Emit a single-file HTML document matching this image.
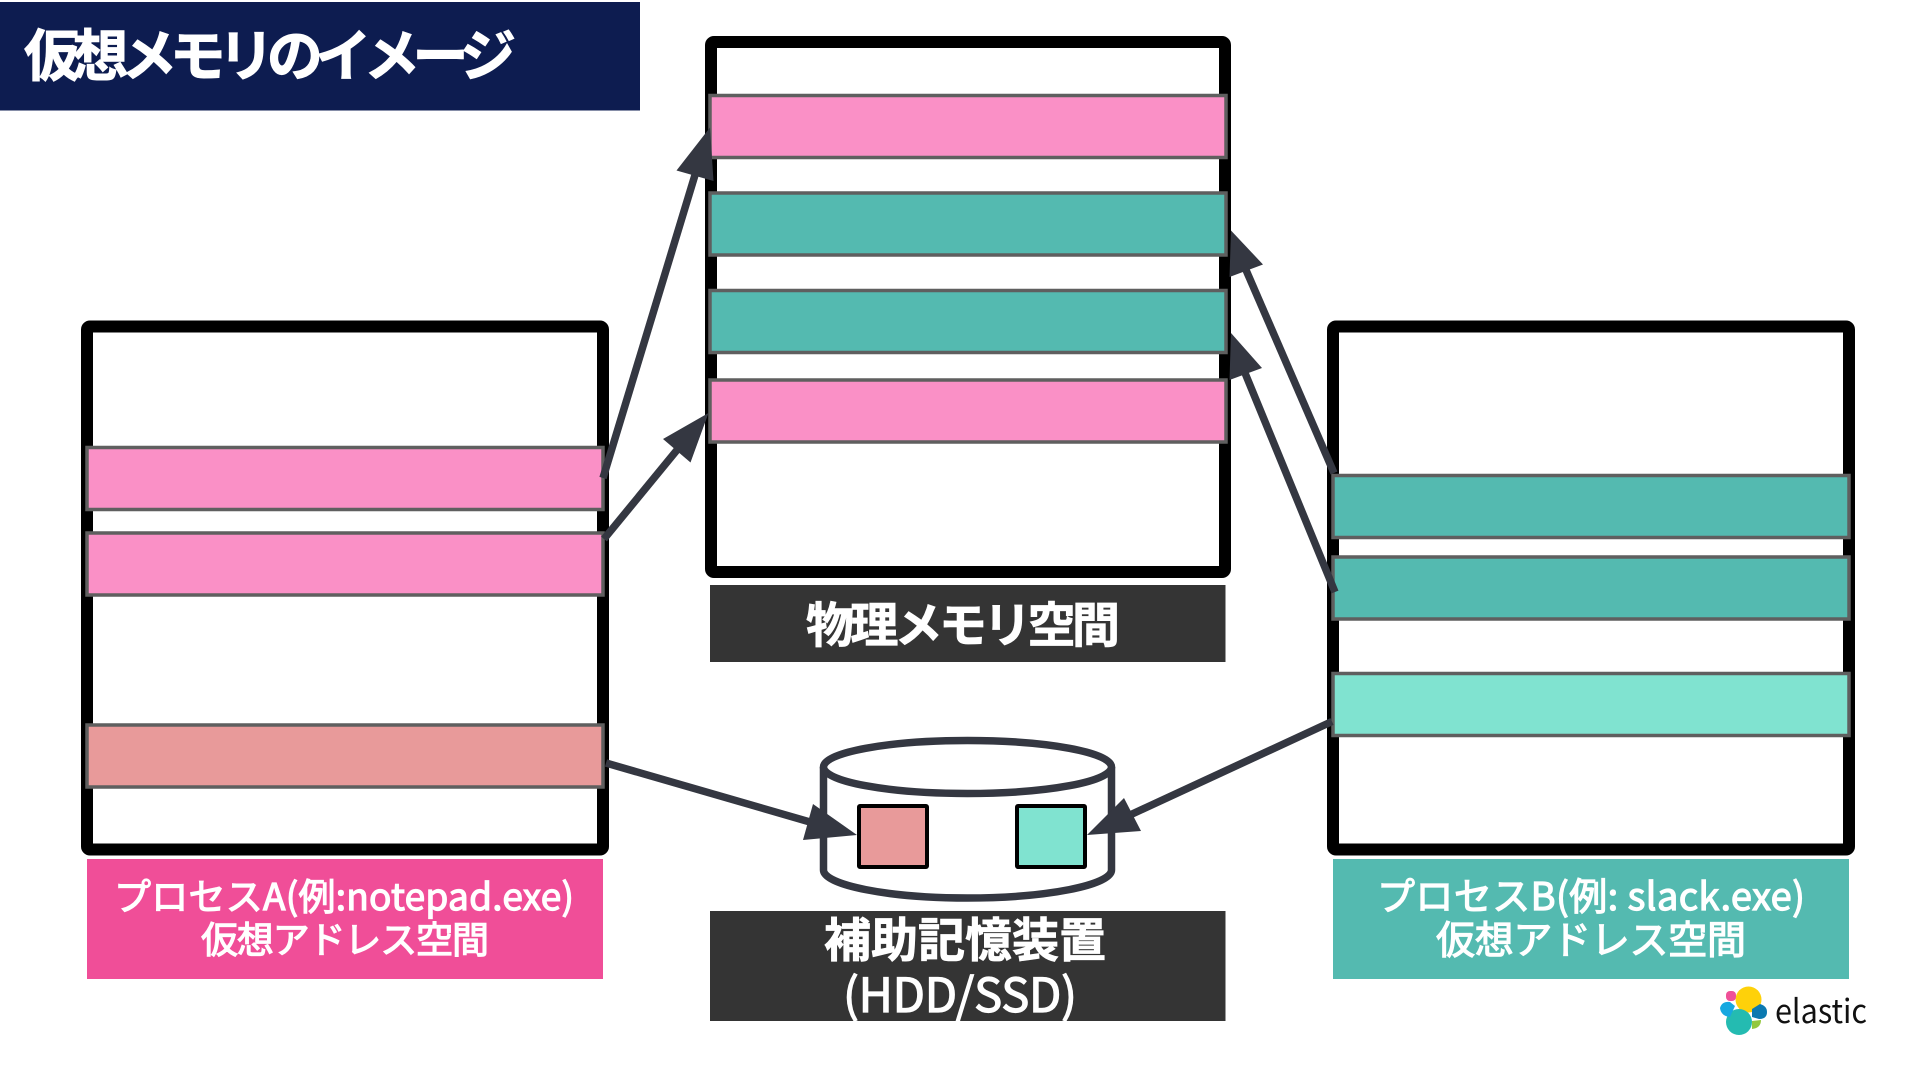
<!DOCTYPE html>
<html lang="ja"><head><meta charset="utf-8"><style>
html,body{margin:0;padding:0;background:#fff;width:1920px;height:1080px;overflow:hidden}
svg{display:block}
text{font-family:"Noto Sans CJK JP","Liberation Sans",sans-serif;fill:#fff;font-weight:700;text-anchor:start}
.m{font-weight:400;stroke:#fff;stroke-width:1.200}
.b{stroke:#5f5f5f;stroke-width:3.500}
.f{fill:none;stroke:#000;stroke-width:12}
.l{stroke:#343741;stroke-width:7.500;fill:none}
.h{fill:#343741}
</style></head><body>
<svg width="1920" height="1080" viewBox="0 0 1920 1080" xmlns="http://www.w3.org/2000/svg">
<rect width="1920" height="1080" fill="#fff"/>
<rect x="0" y="2" width="640" height="108.500" fill="#0d1c50"/>
<text x="24" y="76" font-size="56" textLength="492" lengthAdjust="spacing" style="stroke:#fff;stroke-width:1">仮想メモリのイメージ</text>

<rect class="f" x="711" y="42" width="514" height="530" rx="3"/>
<rect class="f" x="87" y="326.500" width="516" height="523" rx="3"/>
<rect class="f" x="1333" y="326.500" width="516" height="523" rx="3"/>

<rect class="b" x="710" y="95.500" width="516" height="62" fill="#fa90c6"/>
<rect class="b" x="710" y="193" width="516" height="62" fill="#54bab0"/>
<rect class="b" x="710" y="290.500" width="516" height="62" fill="#54bab0"/>
<rect class="b" x="710" y="380" width="516" height="62" fill="#fa90c6"/>

<rect class="b" x="87" y="447.500" width="516" height="62" fill="#fa90c6"/>
<rect class="b" x="87" y="533" width="516" height="62" fill="#fa90c6"/>
<rect class="b" x="87" y="725" width="516" height="62" fill="#e89a9a"/>

<rect class="b" x="1333" y="475.500" width="516" height="62" fill="#54bab0"/>
<rect class="b" x="1333" y="557" width="516" height="62" fill="#54bab0"/>
<rect class="b" x="1333" y="673.500" width="516" height="62" fill="#80e3d0"/>

<rect x="710" y="585" width="515.500" height="77" fill="#343434"/>
<text x="806" y="642" font-size="48" textLength="314" lengthAdjust="spacing" style="stroke:#fff;stroke-width:.8">物理メモリ空間</text>

<rect x="710" y="911" width="515.500" height="110" fill="#343434"/>
<text x="824" y="957" font-size="47" textLength="282" lengthAdjust="spacing" style="stroke:#fff;stroke-width:.8">補助記憶装置</text>
<text x="843" y="1012" font-size="47" class="m" textLength="234" lengthAdjust="spacing">(HDD/SSD)</text>

<rect x="87" y="859" width="516" height="120" fill="#f04e98"/>
<text x="114" y="910" font-size="37" class="m" textLength="460" lengthAdjust="spacing">プロセスA(例:notepad.exe)</text>
<text x="201" y="953" font-size="37" class="m" textLength="288" lengthAdjust="spacing">仮想アドレス空間</text>

<rect x="1333" y="859" width="516" height="120" fill="#54bab0"/>
<text x="1377" y="910" font-size="38" class="m" textLength="428" lengthAdjust="spacing">プロセスB(例: slack.exe)</text>
<text x="1436" y="954" font-size="39" class="m" textLength="310" lengthAdjust="spacing">仮想アドレス空間</text>

<!-- cylinder -->
<path d="M823.500 767 V870 C823.500 885 888 898 967.500 898 C1047 898 1111.500 885 1111.500 870 V767" fill="#fff" stroke="#343741" stroke-width="7.500"/>
<ellipse cx="967.500" cy="767" rx="144" ry="26.500" fill="#fff" stroke="#343741" stroke-width="7.500"/>
<rect x="859" y="806" width="68" height="61" fill="#e89a9a" stroke="#000" stroke-width="4" rx="1"/>
<rect x="1017" y="806" width="68" height="61" fill="#80e3d0" stroke="#000" stroke-width="4" rx="1"/>

<!-- arrows -->
<line class="l" x1="603" y1="478" x2="695" y2="175"/>
<polygon class="h" points="710,127.500 676.500,170.500 713.500,181"/>
<line class="l" x1="604" y1="539" x2="677" y2="450"/>
<polygon class="h" points="708.500,413 663,439 690.500,462.500"/>
<line class="l" x1="1334" y1="473" x2="1246" y2="270"/>
<polygon class="h" points="1231,230.500 1263,264.500 1229.500,277"/>
<line class="l" x1="1335" y1="592" x2="1245" y2="373"/>
<polygon class="h" points="1231,333 1262,368 1229.500,380"/>
<line class="l" x1="606" y1="763" x2="810" y2="822"/>
<polygon class="h" points="857,835 813,804 803,840"/>
<line class="l" x1="1332" y1="721.500" x2="1130" y2="815"/>
<polygon class="h" points="1087,835 1124,798 1141,831"/>

<!-- elastic logo -->
<g>
<circle cx="1748.500" cy="999.500" r="13" fill="#fed10a"/>
<circle cx="1739" cy="1022" r="13" fill="#24bbb1"/>
<rect x="1726" y="991" width="10" height="10" rx="4" fill="#ef5098"/>
<path d="M1720 1008 Q1722 1001 1730 1002 L1735 1006 L1730 1017 Q1721 1016 1720 1008Z" fill="#17a8e0"/>
<path d="M1752 1009 L1760 1004 Q1767 1006 1767 1012 Q1767 1019 1759 1019 L1752 1017Z" fill="#0b79b0"/>
<path d="M1752 1021 L1761 1020 Q1761 1028 1752 1029Z" fill="#93c83e"/>
<text x="1775" y="1023" font-size="33" textLength="92" lengthAdjust="spacingAndGlyphs" style="fill:#111;font-weight:400">elastic</text>
</g>
</svg>
</body></html>
